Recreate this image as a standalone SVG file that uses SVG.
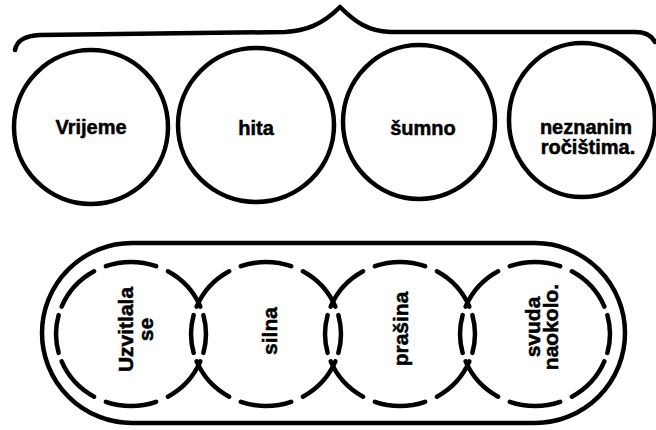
<svg xmlns="http://www.w3.org/2000/svg" width="656" height="430" viewBox="0 0 656 430">
<style>
.o{fill:none;stroke:#000;stroke-width:4.5}
.d{fill:none;stroke:#000;stroke-width:4.5;stroke-linecap:round;stroke-dasharray:15 7 38 10 40 10 38 7 30 7 38 10 40 10 38 7 15}
.t{font-family:"Liberation Sans",Arial,sans-serif;font-weight:bold;font-size:20px;fill:#000;stroke:#000;stroke-width:0.5;text-anchor:middle}
.b{font-size:21px}
</style>
<rect width="656" height="430" fill="#fff"/>
<g id="brace">
<path class="o" stroke-width="5" stroke-linecap="round" stroke-linejoin="round" d="M15,50 C17,40 25,36 40,35 L285,32 C305,31 322,25 340,7 C355,22 368,31 390,32 L635,32 C645,32 652,36 655,42"/>
</g>
<g id="n1"><ellipse class="o" cx="91" cy="127" rx="77" ry="77"/><text class="t" x="91" y="134">Vrijeme</text></g>
<g id="n2"><ellipse class="o" cx="256" cy="125" rx="78" ry="77"/><text class="t" x="256" y="135">hita</text></g>
<g id="n3"><ellipse class="o" cx="419" cy="122" rx="76" ry="77"/><text class="t" x="423" y="135">šumno</text></g>
<g id="n4"><ellipse class="o" cx="582" cy="120" rx="73" ry="77"/><text class="t" x="586" y="134">neznanim</text><text class="t" x="588" y="154">ročištima.</text></g>
<g id="pill"><rect class="o" x="42" y="243" width="583" height="180" rx="90" ry="90"/></g>
<g id="b1"><ellipse class="d" cx="131" cy="334" rx="75" ry="72" pathLength="360"/><text class="t b" transform="translate(131,329.5) rotate(-90)" x="0" y="2">Uzvitlala</text><text class="t b" transform="translate(131,329.5) rotate(-90)" x="0" y="22">se</text></g>
<g id="b2"><ellipse class="d" cx="266" cy="334" rx="75" ry="72" pathLength="360"/><text class="t b" transform="translate(266,331) rotate(-90)" x="0" y="11">silna</text></g>
<g id="b3"><ellipse class="d" cx="400" cy="334" rx="75" ry="72" pathLength="360"/><text class="t b" transform="translate(400,329) rotate(-90)" x="0" y="8">prašina</text></g>
<g id="b4"><ellipse class="d" cx="535" cy="334" rx="75" ry="72" pathLength="360"/><text class="t b" transform="translate(535,327) rotate(-90)" x="0" y="5">svuda</text><text class="t b" transform="translate(535,327) rotate(-90)" x="0" y="23">naokolo.</text></g>
</svg>
